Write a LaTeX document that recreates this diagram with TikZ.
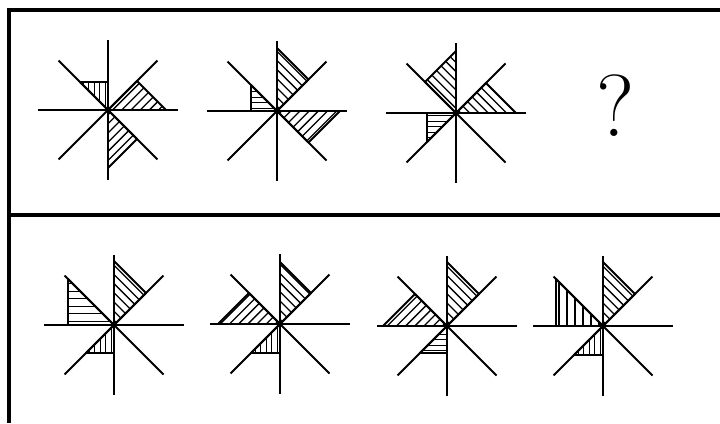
\documentclass[tikz,border=0pt]{standalone}

% hatched triangle: angle, gap, closed path
\newcommand{\hatchtri}[3]{%
    \begin{scope}
        \clip #3;
        \foreach \k [evaluate=\k as \d using (\k+0.5)*#2] in {-16,...,16}
            \draw[hatchline, rotate=#1] (-90,\d) -- (90,\d);
    \end{scope}
    \draw[edge] #3;
}

\begin{document}
\begin{tikzpicture}[x=1pt,y=-1pt,
        frame/.style={line width=4pt},
        arm/.style={line width=2pt},
        edge/.style={line width=1.8pt, line join=round},
        hatchline/.style={line width=1.3pt}]

    \useasboundingbox (0,0) rectangle (720,423);

    % frame, open to the right and below
    \draw[frame] (720,10) -- (9,10) -- (9,423);
    \draw[frame] (9,215) -- (720,215);

    % eight arms of every figure
    \foreach \cx/\cy in {108/110, 277/111, 456/113,
                         114/325, 280/324, 447/326, 603/326} {
        \foreach \a in {0,45,...,315}
            \draw[arm] (\cx,\cy) -- ++(\a:70);
        \fill (\cx,\cy) circle (2.4);
    }

    % top row
    \begin{scope}[shift={(108,110)}]
        \hatchtri{90}{5.5}{(0,0) -- (0,-28) -- (-28,-28) -- cycle}
        \hatchtri{45}{6.5}{(0,0) -- (29,-29) -- (58,0) -- cycle}
        \hatchtri{45}{6.5}{(0,0) -- (0,58) -- (29,29) -- cycle}
    \end{scope}
    \begin{scope}[shift={(277,111)}]
        \hatchtri{0}{5.5}{(0,0) -- (-26,0) -- (-26,-26) -- cycle}
        \hatchtri{-45}{6.5}{(0,0) -- (0,-63) -- (31.5,-31.5) -- cycle}
        \hatchtri{45}{6.5}{(0,0) -- (63,0) -- (31.5,31.5) -- cycle}
    \end{scope}
    \begin{scope}[shift={(456,113)}]
        \hatchtri{-45}{6.5}{(0,0) -- (0,-62) -- (-31,-31) -- cycle}
        \hatchtri{-45}{6.5}{(0,0) -- (30,-30) -- (60,0) -- cycle}
        \hatchtri{0}{5.5}{(0,0) -- (-29,0) -- (-29,29) -- cycle}
    \end{scope}
    \node[font=\fontsize{88}{88}\selectfont] (question) at (616,106) {?};

    % bottom row
    \begin{scope}[shift={(114,325)}]
        \hatchtri{0}{7.5}{(0,0) -- (-46,0) -- (-46,-46) -- cycle}
        \hatchtri{-45}{6.5}{(0,0) -- (0,-64) -- (32,-32) -- cycle}
        \hatchtri{90}{5.5}{(0,0) -- (0,28) -- (-28,28) -- cycle}
    \end{scope}
    \begin{scope}[shift={(280,324)}]
        \hatchtri{45}{6.5}{(0,0) -- (-62,0) -- (-31,-31) -- cycle}
        \hatchtri{-45}{6.5}{(0,0) -- (0,-62) -- (31,-31) -- cycle}
        \hatchtri{90}{5.5}{(0,0) -- (0,29) -- (-29,29) -- cycle}
    \end{scope}
    \begin{scope}[shift={(447,326)}]
        \hatchtri{45}{6.5}{(0,0) -- (-64,0) -- (-32,-32) -- cycle}
        \hatchtri{-45}{6.5}{(0,0) -- (0,-64) -- (32,-32) -- cycle}
        \hatchtri{0}{5.5}{(0,0) -- (0,27) -- (-27,27) -- cycle}
    \end{scope}
    \begin{scope}[shift={(603,326)}]
        \hatchtri{90}{8}{(0,0) -- (-47,0) -- (-47,-47) -- cycle}
        \hatchtri{-45}{6.5}{(0,0) -- (0,-64) -- (32,-32) -- cycle}
        \hatchtri{90}{5.5}{(0,0) -- (0,29) -- (-29,29) -- cycle}
    \end{scope}

\end{tikzpicture}
\end{document}
